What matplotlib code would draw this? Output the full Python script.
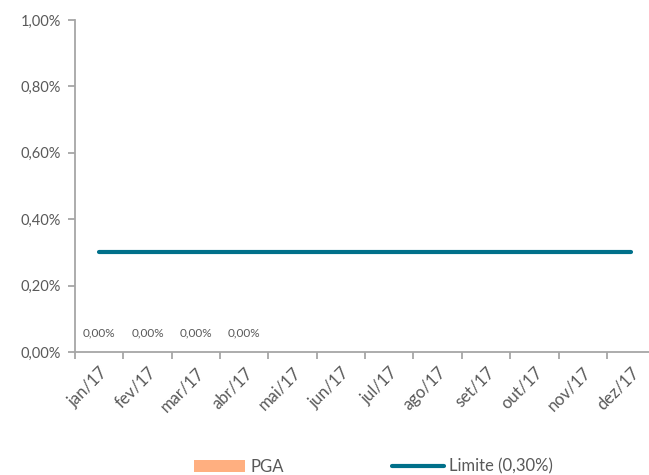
import matplotlib.pyplot as plt
import numpy as np

plt.rcParams['font.family'] = ['Lato', 'DejaVu Sans']

meses = ['jan/17', 'fev/17', 'mar/17', 'abr/17', 'mai/17', 'jun/17',
         'jul/17', 'ago/17', 'set/17', 'out/17', 'nov/17', 'dez/17']
pga = [0.0, 0.0, 0.0, 0.0, np.nan, np.nan, np.nan, np.nan, np.nan, np.nan, np.nan, np.nan]
limite = [0.30] * 12

cinza = '#595959'
eixo = '#A6A6A6'

fig = plt.figure(figsize=(6.49, 4.75), dpi=100)
ax = fig.add_axes([0.1156, 0.259, 0.894, 0.699])

x = np.arange(len(meses))
barras = ax.bar(x, np.nan_to_num(pga), 0.6, color='#FFAF80', label='PGA')
linha, = ax.plot(x, limite, color='#00708A', lw=3, solid_capstyle='round', label='Limite (0,30%)')

for xi, v in zip(x, pga):
    if not np.isnan(v):
        ax.annotate(f'{v:.2f}%'.replace('.', ','), (xi, v), xytext=(0, 10),
                    textcoords='offset points', ha='center', va='bottom',
                    fontsize=8.5, color=cinza)

ax.set_xlim(-0.5, 11.5)
ax.set_ylim(0, 1.0)
ax.set_yticks(np.arange(0, 1.01, 0.2))
ax.set_yticklabels([f'{t:.2f}%'.replace('.', ',') for t in np.arange(0, 1.01, 0.2)])

ax.set_xticks(np.arange(-0.5, 12, 1))
ax.set_xticklabels([])
ax.set_xticks(x, minor=True)
ax.set_xticklabels(meses, minor=True, rotation=45, ha='right', va='top',
                   rotation_mode='anchor')
ax.tick_params(axis='x', which='minor', length=0, pad=9, labelsize=12, labelcolor=cinza)
ax.tick_params(axis='x', which='major', length=5, color=eixo, width=1.3)
ax.tick_params(axis='y', length=5, color=eixo, width=1.3, labelsize=10.5, labelcolor=cinza, pad=5)

for s in ['top', 'right']:
    ax.spines[s].set_visible(False)
for s in ['left', 'bottom']:
    ax.spines[s].set_color(eixo)
    ax.spines[s].set_linewidth(1.3)

fig.legend([barras, linha], ['PGA', 'Limite (0,30%)'], loc='center',
           bbox_to_anchor=(0.575, 0.018), ncol=2, frameon=False,
           fontsize=12, handlelength=3.1, columnspacing=6.5, handletextpad=0.3,
           labelcolor=cinza)

fig.savefig('out.png', dpi=100)
